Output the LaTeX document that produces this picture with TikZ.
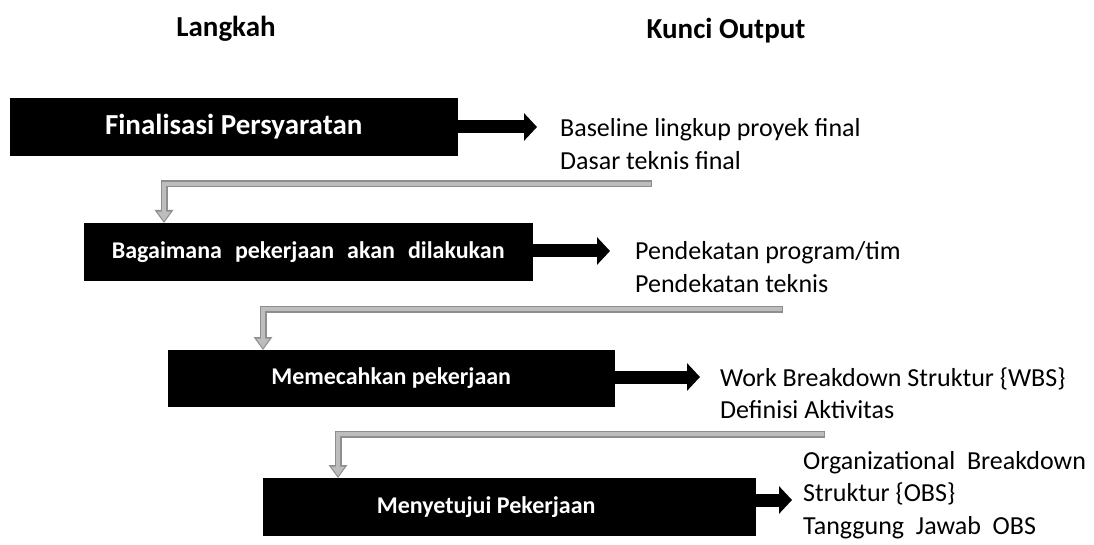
\documentclass[tikz,border=0pt]{standalone}
\usepackage{fontspec}
\setmainfont{Carlito}
\usetikzlibrary{arrows.meta,calc}
\definecolor{flowdark}{HTML}{8E8E8E}
\definecolor{flowlight}{HTML}{BDBDBD}
\tikzset{
  stepbox/.style={fill=black, draw=black, inner sep=0pt, text=white, anchor=north west,
    font=\bfseries\fontsize{24}{28}\selectfont},
  heading/.style={font=\bfseries\fontsize{29}{34}\selectfont, inner sep=0pt, anchor=base},
  outtext/.style={align=left, anchor=west, inner sep=0pt,
    font=\fontsize{26}{32.5}\selectfont},
  outarrow/.style={line width=13pt, -{Triangle[length=13pt,width=27pt]}},
  flowouter/.style={line width=7pt, color=flowdark, line join=miter,
    -{Triangle[length=13pt,width=18pt]}},
  flowinner/.style={line width=4pt, color=flowlight, line join=miter,
    shorten <=1.5pt, shorten >=1.8pt, -{Triangle[length=9.5pt,width=12.5pt]}},
}
\newcommand{\flowline}[3]{%
  \draw[flowouter] (#1) -| ($(#2)+(#3,0)$);
  \draw[flowinner] (#1) -| ($(#2)+(#3,0)$);}
\newcommand{\wgap}{\hspace{13pt}}
\begin{document}
\begin{tikzpicture}[x=1pt,y=-1pt]
  \useasboundingbox (0,0) rectangle (1094,545);

  % column headings
  \node[heading] (hl) at (226,37) {Langkah};
  \node[heading] (hk) at (726,39) {Kunci Output};

  % steps
  \node[stepbox, minimum width=447pt, minimum height=57pt,
        font=\bfseries\fontsize{29}{34}\selectfont] (b1) at (10,98)
        {Finalisasi Persyaratan};
  \node[stepbox, minimum width=448pt, minimum height=57pt] (b2) at (84,223)
        {Bagaimana\wgap pekerjaan\wgap akan\wgap dilakukan};
  \node[stepbox, minimum width=446pt, minimum height=56pt] (b3) at (168,350)
        {Memecahkan pekerjaan};
  \node[stepbox, minimum width=492pt, minimum height=57pt] (b4) at (263,478)
        {Menyetujui Pekerjaan\hspace*{46pt}};

  % key outputs
  \node[outtext] (o1) at (560,144) {Baseline lingkup proyek final\\Dasar teknis final};
  \node[outtext] (o2) at (635,267) {Pendekatan program/tim\\Pendekatan teknis};
  \node[outtext] (o3) at (720,393) {Work Breakdown Struktur \{WBS\}\\Definisi Aktivitas};
  \node[outtext] (o4) at (803,495) {Organizational\ \ Breakdown\\Struktur \{OBS\}\\Tanggung\ \ Jawab\ \ OBS};

  % arrows from each step to its outputs
  \coordinate (a1) at (537,127);
  \coordinate (a2) at (610,251);
  \coordinate (a3) at (700,377);
  \coordinate (a4) at (792,500);
  \draw[outarrow] (b1.east |- a1) -- (a1);
  \draw[outarrow] (b2.east |- a2) -- (a2);
  \draw[outarrow] (b3.east |- a3) -- (a3);
  \draw[outarrow] (b4.east |- a4) -- (a4);

  % flow from one step to the next
  \coordinate (f1) at (652,184);
  \coordinate (f2) at (783,309);
  \coordinate (f3) at (825,434);
  \flowline{f1}{b2.north west}{80}
  \flowline{f2}{b3.north west}{95}
  \flowline{f3}{b4.north west}{75}
\end{tikzpicture}
\end{document}
